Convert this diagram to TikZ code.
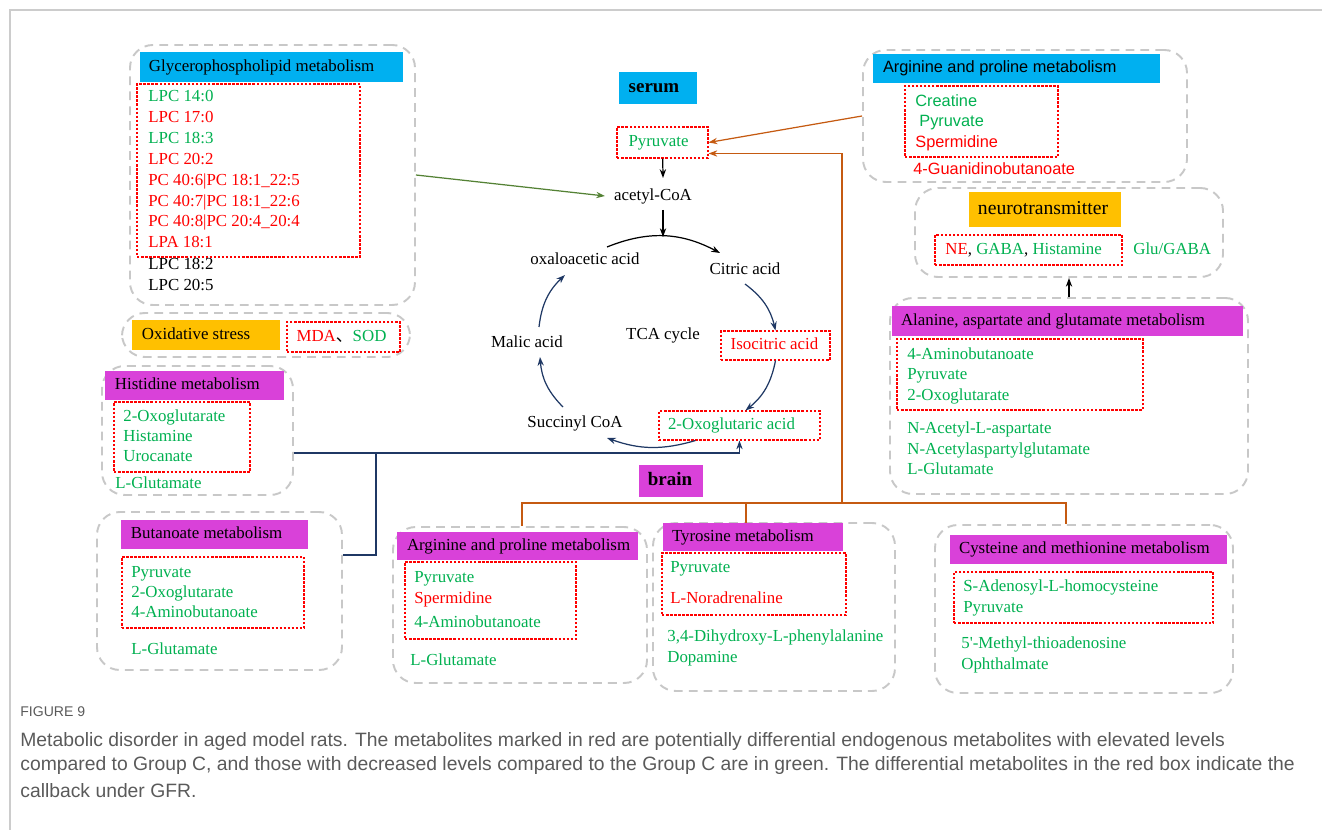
\documentclass[tikz,border=0pt]{standalone}
\usepackage{fontspec}
\setmainfont{Liberation Serif}
\newfontfamily\sansf{Liberation Sans}
\newfontfamily\capf{Liberation Sans}
\newfontfamily\cjk{Noto Sans CJK SC}
\usepackage{xcolor}
\usetikzlibrary{arrows.meta,calc,positioning,fit}

\definecolor{hdblue}{RGB}{0,176,240}
\definecolor{hdmag}{RGB}{217,65,217}
\definecolor{hdorg}{RGB}{255,192,0}
\definecolor{metgrn}{RGB}{0,176,80}
\definecolor{metred}{RGB}{255,0,0}
\definecolor{grpgray}{RGB}{200,200,200}
\definecolor{arwnavy}{RGB}{31,56,100}
\definecolor{arworng}{RGB}{197,90,17}
\definecolor{arwgrn}{RGB}{84,130,53}
\definecolor{captext}{RGB}{90,90,90}

\newcommand{\itemfont}{\fontsize{9.6pt}{11.5pt}\selectfont}
\newcommand{\sansitem}{\sansf\fontsize{9.3pt}{11pt}\selectfont}
\newcommand{\tagfont}{\fontsize{10.8pt}{12pt}\selectfont\bfseries}
\newcommand{\figcapfont}{\capf\fontsize{11pt}{13pt}\selectfont}

\begin{document}
\begin{tikzpicture}[x=0.02cm,y=-0.02cm,>={Stealth[length=5pt,width=3.6pt]}]

\tikzset{
  group/.style={draw=grpgray, line width=1.1pt, dash pattern=on 5pt off 3.5pt,
    rounded corners=13pt, inner sep=0pt},
  redbox/.style={draw=metred, line width=0.6pt, dash pattern=on 1.4pt off 0.9pt,
    inner sep=0pt},
  header/.style={fill=#1, inner sep=0pt},
  hdtext/.style={inner sep=0pt, font=\itemfont, text height=7pt, text depth=2pt},
  item/.style={anchor=west, inner sep=0pt, font=\itemfont, text height=7pt, text depth=2pt},
  tca/.style={inner xsep=5pt, inner ysep=0pt, font=\itemfont, text height=7pt, text depth=2pt},
  conn/.style={line width=0.7pt}
}

\useasboundingbox (0,0) rectangle (1322,830);
\draw[gray!40, line width=0.6pt] (10,830) -- (10,10) -- (1322,10);

% serum side
\node[group, fit={(130,45) (415,305)}] (gpG) {};
\node[header=hdblue, fit={(140,52) (403,82)}] (gpH) {};
\node[hdtext, right=0.18cm of gpH.west] (gpT) {Glycerophospholipid metabolism};
\node[redbox, fit={(137,84) (360,257)}] (gpR) {};
\foreach \yy/\tx/\cl [count=\i] in {97/LPC 14:0/metgrn, 118/LPC 17:0/metred,
  139/LPC 18:3/metgrn, 160/LPC 20:2/metred, 181/PC 40:6|PC 18:1\_22:5/metred,
  202/PC 40:7|PC 18:1\_22:6/metred, 222/PC 40:8|PC 20:4\_20:4/metred,
  243/LPA 18:1/metred, 265/LPC 18:2/black, 286/LPC 20:5/black}
  \node[item, text=\cl] (gp\i) at (148,\yy) {\tx};

\node[group, fit={(122,313) (410,357)}] (oxG) {};
\node[header=hdorg, fit={(132,320) (280,350)}] (oxH) {};
\node[hdtext, right=0.2cm of oxH.west] (oxT) {Oxidative stress};
\node[redbox, fit={(287,322) (400,352)}] (oxR) {};
\node[hdtext] (oxI) at ($(oxR)+(-2,0)$) {\textcolor{metred}{MDA}{\cjk 、}\textcolor{metgrn}{SOD}};

\node[group, fit={(863,50) (1187,182)}] (agG) {};
\node[header=hdblue, fit={(873,54) (1160,83)}] (agH) {};
\node[hdtext, font=\sansitem, right=0.2cm of agH.west] (agT) {Arginine and proline metabolism};
\node[redbox, fit={(905,86) (1058,157)}] (agR) {};
\foreach \yy/\xx/\tx/\cl [count=\i] in {102/915/Creatine/metgrn, 122/919/Pyruvate/metgrn,
  143/915/Spermidine/metred, 170/913/4-Guanidinobutanoate/metred}
  \node[item, font=\sansitem, text=\cl] (ag\i) at (\xx,\yy) {\tx};

\node[group, fit={(915,188) (1223,277)}] (ntG) {};
\node[header=hdorg, fit={(969,192) (1121,227)}] (ntH) {};
\node[hdtext, font=\fontsize{11.2pt}{13pt}\selectfont] (ntT) at ($(ntH)+(-2,1)$) {neurotransmitter};
\node[redbox, fit={(935,235) (1122,265)}] (ntR) {};
\node[item] (nt1) at (945,250) {\textcolor{metred}{NE}, \textcolor{metgrn}{GABA}, \textcolor{metgrn}{Histamine}};
\node[item, text=metgrn] (nt2) at (1133,250) {Glu/GABA};

% TCA cycle
\node[header=hdblue, fit={(619,72) (697,104)}] (serH) {};
\node[hdtext, font=\tagfont] (serT) at ($(serH)+(-4,0)$) {serum};
\node[redbox, fit={(617,127) (708,158)}] (pyr) {};
\node[hdtext, text=metgrn] (pyrT) at ($(pyr)+(-4,0)$) {Pyruvate};
\node[tca] (acoa) at (653,196) {acetyl-CoA};
\node[tca] (oaa) at (585,260) {oxaloacetic acid};
\node[tca] (cit) at (745,270) {Citric acid};
\node[tca] (mal) at (527,343) {Malic acid};
\node[tca] (suc) at (575,423) {Succinyl CoA};
\node[tca] (cyc) at (663,335) {TCA cycle};
\node[redbox, fit={(721,331) (830,360)}] (iso) {};
\node[hdtext, text=metred] (isoT) at ($(iso)+(-1,0)$) {Isocitric acid};
\node[redbox, fit={(659,411) (820,440)}] (oxo) {};
\node[hdtext, text=metgrn] (oxoT) at ($(oxo)+(-8,0)$) {2-Oxoglutaric acid};
\coordinate (arcTop) at (663,237);

\path[draw,conn,->] (pyr) -- ($(acoa)+(10,-18)$);
\path[draw,conn,->] ($(acoa)+(10,14)$) -- (arcTop);
\path[draw,conn,->] ($(oaa)+(22,-13)$) to[bend left=25] ($(cit)+(-25,-17)$);
\path[draw,conn,arwnavy,->] ($(cit)+(0,14)$) to[bend left=20] (iso.north);
\path[draw,conn,arwnavy,->] (iso.south) to[bend left=20] ($(oxo.north)+(6,0)$);
\path[draw,conn,arwnavy,->] ($(oxo.south)+(-44,0)$) to[bend left=18] ($(suc)+(32,15)$);
\path[draw,conn,arwnavy,->] ($(suc)+(-12,-16)$) to[bend left=20] ($(mal)+(13,14)$);
\path[draw,conn,arwnavy,->] ($(mal)+(12,-16)$) to[bend left=20] ($(oaa)+(-20,15)$);

\path[draw,conn,arwgrn,->] (gpG.east) -- (acoa.west);
\path[draw,conn,arworng,->] (agG.west) -- (pyr.east);

% brain side
\node[group, fit={(890,298) (1248,494)}] (alG) {};
\node[header=hdmag, fit={(892,306) (1243,336)}] (alH) {};
\node[hdtext, right=0.18cm of alH.west] (alT) {Alanine, aspartate and glutamate metabolism};
\node[redbox, fit={(897,339) (1143,410)}] (alR) {};
\foreach \yy/\tx [count=\i] in {355/4-Aminobutanoate, 375/Pyruvate, 396/2-Oxoglutarate,
  429/N-Acetyl-L-aspartate, 450/N-Acetylaspartylglutamate, 470/L-Glutamate}
  \node[item, text=metgrn] (al\i) at (907,\yy) {\tx};
\path[draw,conn,->] (alG.north) -- (ntG.south);

\node[group, fit={(102,366) (293,495)}] (hiG) {};
\node[header=hdmag, fit={(105,371) (284,400)}] (hiH) {};
\node[hdtext, right=0.2cm of hiH.west] (hiT) {Histidine metabolism};
\node[redbox, fit={(114,402) (250,472)}] (hiR) {};
\foreach \yy/\xx/\tx [count=\i] in {417/123/2-Oxoglutarate, 437/123/Histamine,
  457/123/Urocanate, 484/115/L-Glutamate}
  \node[item, text=metgrn] (hi\i) at (\xx,\yy) {\tx};

\node[group, fit={(97,512) (342,670)}] (buG) {};
\node[header=hdmag, fit={(121,520) (308,549)}] (buH) {};
\node[hdtext, right=0.2cm of buH.west] (buT) {Butanoate metabolism};
\node[redbox, fit={(122,557) (304,628)}] (buR) {};
\foreach \yy/\tx [count=\i] in {573/Pyruvate, 593/2-Oxoglutarate, 613/4-Aminobutanoate, 650/L-Glutamate}
  \node[item, text=metgrn] (bu\i) at (131,\yy) {\tx};

\coordinate (jn) at (376,453);
\path[draw,conn,arwnavy,->] ($(hiG.east)+(0,22.5)$) -| (oxo.south);
\path[draw,conn,arwnavy] ($(buG.east)+(0,-36)$) -| (jn);

\node[header=hdmag, fit={(639,465) (703,497)}] (brH) {};
\node[hdtext, font=\tagfont] (brT) at ($(brH)+(-1,0)$) {brain};

\node[group, fit={(393,527) (647,683)}] (bagG) {};
\node[header=hdmag, fit={(397,532) (638,560)}] (bagH) {};
\node[hdtext, right=0.2cm of bagH.west] (bagT) {Arginine and proline metabolism};
\node[redbox, fit={(405,562) (576,639)}] (bagR) {};
\foreach \yy/\xx/\tx/\cl [count=\i] in {578/414/Pyruvate/metgrn, 599/414/Spermidine/metred,
  623/414/4-Aminobutanoate/metgrn, 661/410/L-Glutamate/metgrn}
  \node[item, text=\cl] (bag\i) at (\xx,\yy) {\tx};

\node[group, fit={(653,523) (895,691)}] (tyG) {};
\node[header=hdmag, fit={(663,523) (843,551)}] (tyH) {};
\node[hdtext, right=0.18cm of tyH.west] (tyT) {Tyrosine metabolism};
\node[redbox, fit={(662,553) (846,615)}] (tyR) {};
\foreach \yy/\xx/\tx/\cl [count=\i] in {568/670/Pyruvate/metgrn, 599/670/L-Noradrenaline/metred,
  637/667/{3,4-Dihydroxy-L-phenylalanine}/metgrn, 658/667/Dopamine/metgrn}
  \node[item, text=\cl] (ty\i) at (\xx,\yy) {\tx};

\node[group, fit={(935,525) (1233,693)}] (cyG) {};
\node[header=hdmag, fit={(950,535) (1227,564)}] (cyH) {};
\node[hdtext, right=0.18cm of cyH.west] (cyT) {Cysteine and methionine metabolism};
\node[redbox, fit={(954,572) (1213,623)}] (cyR) {};
\foreach \yy/\xx/\tx [count=\i] in {587/963/S-Adenosyl-L-homocysteine, 608/963/Pyruvate,
  644/961/5\textquotesingle-Methyl-thioadenosine, 665/961/Ophthalmate}
  \node[item, text=metgrn] (cy\i) at (\xx,\yy) {\tx};

\coordinate (bus) at (842,503);
\path[draw,conn,arworng,->] (bus) |- ($(pyr.east)+(0,11)$);
\path[draw,conn,arworng] ($(bagG.north)+(2,0)$) |- (bus) -| ($(cyG.north)+(-18,0)$);
\path[draw,conn,arworng] ($(tyH.north)+(-7,0)$) |- (bus);

% caption
\node[anchor=west, inner sep=0pt, font=\capf\fontsize{8pt}{9pt}\selectfont, text=captext] (figNo) at (20,712) {FIGURE 9};
\foreach \yy/\tx [count=\i] in {742/{Metabolic disorder in aged model rats. The metabolites marked in red are potentially differential endogenous metabolites with elevated levels},
  766/{compared to Group C, and those with decreased levels compared to the Group C are in green. The differential metabolites in the red box indicate the},
  791/{callback under GFR.}}
  \node[anchor=west, inner sep=0pt, font=\figcapfont, text=captext] (cap\i) at (20,\yy) {\tx};

\end{tikzpicture}
\end{document}
